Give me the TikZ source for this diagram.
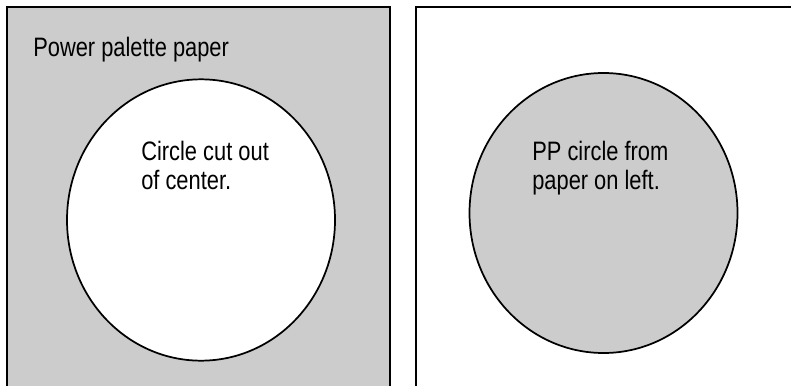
\documentclass[tikz,border=0pt]{standalone}
\usepackage{fontspec}
\setmainfont{Liberation Sans}[FakeStretch=0.82]
\usetikzlibrary{shapes.geometric}
\definecolor{paper}{HTML}{CCCCCC}
\tikzset{
  sheet/.style={line width=2.2pt, draw=black},
  disc/.style={ellipse, draw=black, line width=1.3pt, inner sep=0pt},
  lbl/.style={inner sep=0pt, align=left, font=\fontsize{20pt}{21.75pt}\selectfont, anchor=base west}
}
\begin{document}
\begin{tikzpicture}[x=0.75pt,y=-0.75pt]
\useasboundingbox (0,0) rectangle (791,385);
\clip (0,0) rectangle (791,385);
% left sheet
\fill[paper] (7,7) rectangle (390,400);
\draw[sheet] (7,400) -- (7,7) -- (390,7) -- (390,400);
% right sheet
\draw[sheet] (416,400) -- (416,7) -- (800,7);
% circles
\node[disc, fill=white, minimum width=201pt, minimum height=211pt] (hole) at (201,220) {};
\node[disc, fill=paper, minimum width=201pt, minimum height=210pt] (cut) at (603.5,213) {};
% labels (anchor at baseline of last line)
\node[lbl] (t1) at (33,57) {Power palette paper};
\node[lbl] (t2) at (141,189) {Circle cut out\\of center.};
\node[lbl] (t3) at (532,189) {PP circle from\\paper on left.};
\end{tikzpicture}
\end{document}
